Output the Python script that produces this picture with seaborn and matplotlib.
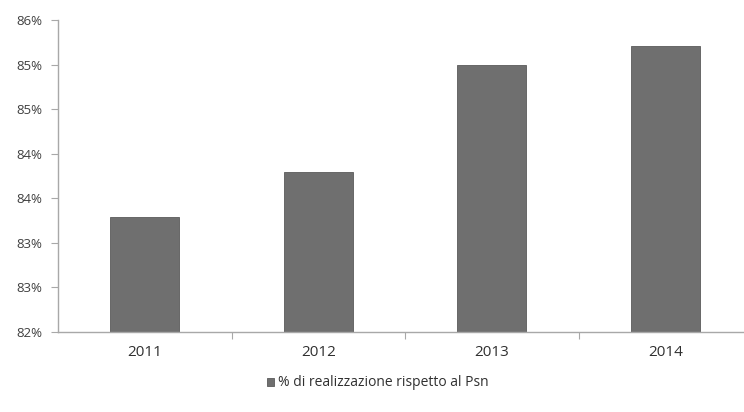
import math
import matplotlib
matplotlib.use("Agg")
import matplotlib.pyplot as plt
import matplotlib.ticker as mticker
import seaborn as sns
import pandas as pd

years = ["2011", "2012", "2013", "2014"]
values = [83.29, 83.79, 85.0, 85.21]
series_name = "% di realizzazione rispetto al Psn"

df = pd.DataFrame({"anno": years, "valore": values, "serie": [series_name] * len(years)})

sns.set_theme(style="white")
plt.rcParams["font.family"] = ["Open Sans", "DejaVu Sans"]

fig = plt.figure(figsize=(7.44, 4.12), dpi=100)
ax = fig.add_axes([58 / 744, 80 / 412, (752 - 58) / 744, 312 / 412])

sns.barplot(data=df, x="anno", y="valore", hue="serie", palette=["#6f6f6f"],
            width=0.4, dodge=False, ax=ax, legend=True, edgecolor="#5a5a5a", linewidth=0.6)

ax.set_yticks([82 + 0.5 * i for i in range(8)])
ax.yaxis.set_major_formatter(mticker.FuncFormatter(lambda v, p: f"{math.floor(v + 0.5 + 1e-9)}%"))
ax.set_ylim(82, 85.5)
ax.set_xlim(-0.5, 3.5)
ax.set_xlabel("")
ax.set_ylabel("")

for s in ["top", "right"]:
    ax.spines[s].set_visible(False)
for s in ["left", "bottom"]:
    ax.spines[s].set_color("#a8a8a8")
    ax.spines[s].set_linewidth(1.0)

ax.tick_params(axis="y", which="major", left=True, length=5, width=0.8, color="#a8a8a8",
               labelsize=9.5, labelcolor="#404040", pad=6)
ax.tick_params(axis="x", which="major", length=0, labelsize=11, labelcolor="#303030", pad=9)
ax.set_xticks([0.5, 1.5, 2.5], minor=True)
ax.tick_params(axis="x", which="minor", bottom=True, length=5, width=0.8, color="#a8a8a8")

leg = ax.get_legend()
handles = leg.legend_handles
leg.remove()
fig.legend(handles, [series_name], loc="center", bbox_to_anchor=(378 / 744, 1 - 383 / 412),
           frameon=False, fontsize=10, handlelength=0.5, handleheight=0.5, handletextpad=0.3,
           labelcolor="#303030")

fig.savefig("out.png", dpi=100)
